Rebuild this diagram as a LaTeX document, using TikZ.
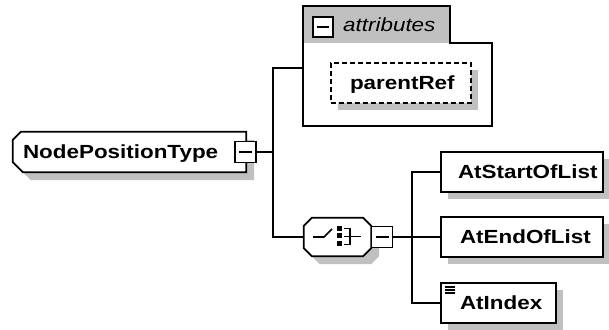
\documentclass[tikz,border=0pt]{standalone}
\usepackage{fontspec}
\newfontfamily\lab[FakeStretch=1.18]{Liberation Sans}
\usetikzlibrary{calc,shadows}
\definecolor{shadegray}{RGB}{192,192,192}
\definecolor{headgray}{RGB}{192,192,192}
\pgfdeclarelayer{shadowlayer}
\pgfdeclarelayer{filllayer}
\pgfsetlayers{shadowlayer,filllayer,main}

\begin{document}
\begin{tikzpicture}[x=1pt,y=-1pt,
  wire/.style={draw=black,line width=1.7pt,line join=miter},
  outline/.style={draw=black,line width=1.7pt,line join=miter,fill=white},
  boxshadow/.style={fill=shadegray,draw=none},
  txt/.style={font=\lab\fontsize{19}{22}\selectfont},
  boxlabel/.style={txt,font=\lab\fontsize{19}{22}\selectfont\bfseries,inner sep=0pt,
    text height=12pt,text depth=0pt,minimum height=40pt,align=left},
  elem/.style={boxlabel,rectangle,draw=black,line width=1.7pt,fill=white,
    drop shadow={shadow xshift=7pt,shadow yshift=-7pt,fill=shadegray,opacity=1}},
  hit/.style={rectangle,inner sep=0pt},
  toggle/.style={rectangle,draw=black,line width=1.7pt,fill=white,minimum size=21pt,inner sep=0pt,
    path picture={\draw[line width=1.4pt]
      ([xshift=4pt]path picture bounding box.west) -- ([xshift=-4pt]path picture bounding box.east);}},
]
\useasboundingbox (0,0) rectangle (609,329);

% ---- complex type NodePositionType (chamfered on the left) ----
\node[boxlabel,text width=233pt,minimum width=233pt] (npt) at (129.5,152) {\noindent\hspace*{10pt}NodePositionType};
\begin{pgfonlayer}{shadowlayer}
  \fill[boxshadow,transform canvas={shift={(8pt,-8pt)}}]
    ([xshift=8pt]npt.north west) -- (npt.north east) -- (npt.south east)
    -- ([xshift=10pt]npt.south west) -- ([yshift=10pt]npt.south west)
    -- ([yshift=-8pt]npt.north west) -- cycle;
\end{pgfonlayer}
\begin{pgfonlayer}{filllayer}
  \draw[outline]
    ([xshift=8pt]npt.north west) -- (npt.north east) -- (npt.south east)
    -- ([xshift=10pt]npt.south west) -- ([yshift=10pt]npt.south west)
    -- ([yshift=-8pt]npt.north west) -- cycle;
\end{pgfonlayer}
\node[toggle] (bnpt) at (245.5,152) {};

% ---- attribute group ----
\node[hit,minimum width=189pt,minimum height=120pt] (attrs) at (397.5,66) {};
\begin{pgfonlayer}{filllayer}
  \fill[white] (303,6) rectangle (492,126);
  \fill[headgray] (303,6) rectangle (450,43);
  \draw[wire] (303,6) -- (450,6) -- (450,43) -- (492,43) -- (492,126) -- (303,126) -- cycle;
\end{pgfonlayer}
\node[toggle,minimum size=20pt] (battr) at (323,27) {};
\node[txt,anchor=base west,inner sep=0pt] (attrlbl) at (343,32) {\itshape attributes};
\node[elem,dash pattern=on 5pt off 3pt,line width=1.5pt,text width=140pt,minimum width=140pt] (pref)
  at (401,83) {\noindent\hspace*{19pt}parentRef};

% ---- sequence compositor ----
\node[hit,minimum width=67pt,minimum height=38pt] (seq) at (337.5,237) {};
\begin{pgfonlayer}{shadowlayer}
  \fill[boxshadow,transform canvas={shift={(8pt,-8pt)}}]
    ([xshift=8pt]seq.north west) -- ([xshift=-8pt]seq.north east) -- ([yshift=-8pt]seq.north east)
    -- ([yshift=8pt]seq.south east) -- ([xshift=-8pt]seq.south east) -- ([xshift=8pt]seq.south west)
    -- ([yshift=8pt]seq.south west) -- ([yshift=-8pt]seq.north west) -- cycle;
\end{pgfonlayer}
\begin{pgfonlayer}{filllayer}
  \draw[outline]
    ([xshift=8pt]seq.north west) -- ([xshift=-8pt]seq.north east) -- ([yshift=-8pt]seq.north east)
    -- ([yshift=8pt]seq.south east) -- ([xshift=-8pt]seq.south east) -- ([xshift=8pt]seq.south west)
    -- ([yshift=8pt]seq.south west) -- ([yshift=-8pt]seq.north west) -- cycle;
\end{pgfonlayer}
% sequence symbol
\draw[line width=1.6pt] (313,237) -- (324,237) -- (332,229);
\fill (336.5,225.5) rectangle (341.5,230.5);
\fill (336.5,232.5) rectangle (341.5,237.5);
\fill (336.5,240.5) rectangle (341.5,245.5);
\draw[line width=1.6pt] (344,228.5) -- (350,228.5) -- (350,244.5) -- (344,244.5);
\draw[line width=1.6pt] (344,236.5) -- (361,236.5);
\node[toggle] (bseq) at (382,237) {};

% ---- child elements ----
\node[elem,text width=162pt,minimum width=162pt] (c1) at (522,172) {\noindent\hspace*{17pt}AtStartOfList};
\node[elem,text width=162pt,minimum width=162pt] (c2) at (522,237) {\noindent\hspace*{19pt}AtEndOfList};
\node[elem,text width=115pt,minimum width=115pt] (c3) at (498.5,303) {\noindent\hspace*{19pt}AtIndex};
\foreach \yy in {287,290,293}
  \draw[line width=1.1pt] (445,\yy) -- (455,\yy);

% ---- connectors ----
\coordinate (jattr) at (273,68);
\coordinate (jkid) at (412,172);
\draw[wire] (bnpt.east) -- (bnpt.east -| jattr);
\draw[wire] (jattr -| attrs.west) -- (jattr) -- (jattr |- seq.west) -- (seq.west);
\draw[wire] (bseq.east) -- (bseq.east -| jkid);
\draw[wire] (c1.west) -- (c1.west -| jkid) -- (c3.west -| jkid) -- (c3.west);
\draw[wire] (c2.west) -- (c2.west -| jkid);
\end{tikzpicture}
\end{document}
